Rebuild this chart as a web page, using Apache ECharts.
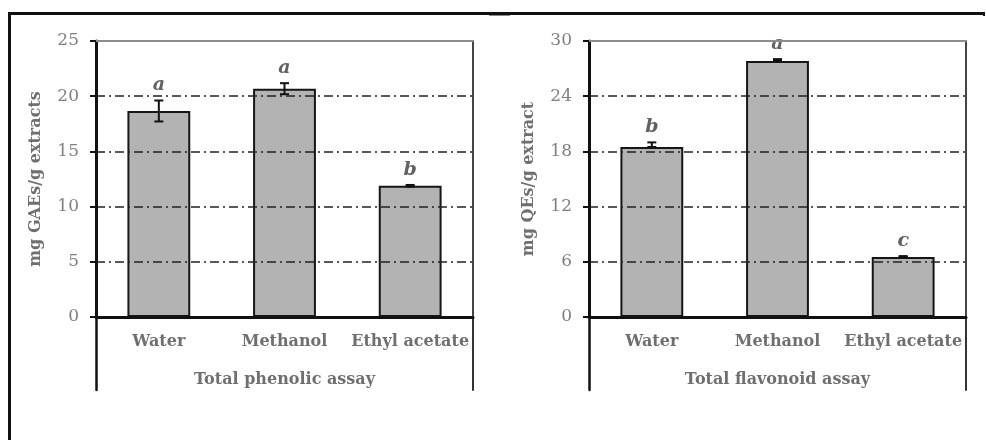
<!DOCTYPE html>
<html>
<head>
<meta charset="utf-8">
<script src="https://cdn.jsdelivr.net/npm/echarts@6/dist/echarts.min.js"></script>
<style>
html,body{margin:0;padding:0;background:#fff;}
#chart{width:986px;height:440px;}
</style>
</head>
<body>
<div id="chart"></div>
<script>
const categories = ['Water', 'Methanol', 'Ethyl acetate'];

const phenolic = [18.66, 20.68, 11.89];
const phenolicErrPlus = [0.95, 0.5, 0.07];
const phenolicErrMinus = [0.95, 0.5, 0.07];
const phenolicLetters = ['a', 'a', 'b'];
const phenolicTicks = [0, 5, 10, 15, 20, 25];

const flavonoid = [18.48, 27.83, 6.52];
const flavonoidErrPlus = [0.5, 0.2, 0.1];
const flavonoidErrMinus = [0, 0, 0];
const flavonoidLetters = ['b', 'a', 'c'];
const flavonoidTicks = [0, 6, 12, 18, 24, 30];

const FONT = 'DejaVu Serif';
const chart = echarts.init(document.getElementById('chart'), null, {renderer: 'canvas'});

function mainX(grid, name) {
  return {
    type: 'category', gridIndex: grid, data: categories, position: 'bottom',
    axisLine: {show: true, onZero: false, lineStyle: {color: '#111', width: 3}},
    axisTick: {show: false},
    axisLabel: {margin: 17, fontFamily: FONT, fontWeight: 'bold', fontSize: 16, color: '#6f6f6f', interval: 0},
    name: name, nameLocation: 'middle', nameGap: 55,
    nameTextStyle: {fontFamily: FONT, fontWeight: 'bold', fontSize: 16, color: '#6f6f6f'},
    z: 6
  };
}
function topX(grid) {
  return {
    type: 'category', gridIndex: grid, data: categories, position: 'top',
    axisLine: {show: true, onZero: false, lineStyle: {color: '#8c8c8c', width: 2}},
    axisTick: {show: false}, axisLabel: {show: false}, z: 6
  };
}
function mainY(grid, ticks, name) {
  return {
    type: 'value', gridIndex: grid, min: ticks[0], max: ticks[ticks.length - 1],
    interval: ticks[1] - ticks[0], position: 'left',
    axisLine: {show: true, onZero: false, lineStyle: {color: '#111', width: 3}},
    axisTick: {show: true, length: 6, lineStyle: {color: '#111', width: 2}},
    axisLabel: {margin: 17, fontFamily: FONT, fontSize: 17, color: '#7f7f7f'},
    splitLine: {show: true, lineStyle: {color: '#222', width: 1.5, type: [9, 4, 2, 4]}},
    name: name, nameLocation: 'middle', nameGap: 52,
    nameTextStyle: {fontFamily: FONT, fontWeight: 'bold', fontSize: 16, color: '#6f6f6f'},
    z: 6
  };
}
function rightY(grid, ticks) {
  return {
    type: 'value', gridIndex: grid, min: ticks[0], max: ticks[ticks.length - 1],
    interval: ticks[1] - ticks[0], position: 'right',
    axisLine: {show: true, onZero: false, lineStyle: {color: '#444', width: 2}},
    axisTick: {show: false}, axisLabel: {show: false}, splitLine: {show: false}
  };
}
function extY(grid, pos, color, width) {
  return {
    type: 'value', gridIndex: grid, min: 0, max: 1, position: pos,
    axisLine: {show: true, onZero: false, lineStyle: {color: color, width: width}},
    axisTick: {show: false}, axisLabel: {show: false}, splitLine: {show: false}
  };
}
function errSeries(xi, yi, vals, plus, minus, letters) {
  return {
    type: 'custom', xAxisIndex: xi, yAxisIndex: yi, z: 5,
    data: vals.map((v, i) => [i, v, v + plus[i], v - minus[i]]),
    renderItem: function (params, api) {
      const c = api.coord([api.value(0), api.value(1)]);
      const hi = api.coord([api.value(0), api.value(2)]);
      const lo = api.coord([api.value(0), api.value(3)]);
      const cap = 4.5;
      const st = {stroke: '#111', lineWidth: 2};
      return {
        type: 'group',
        children: [
          {type: 'line', shape: {x1: c[0], y1: hi[1], x2: c[0], y2: lo[1]}, style: st},
          {type: 'line', shape: {x1: c[0] - cap, y1: hi[1], x2: c[0] + cap, y2: hi[1]}, style: st},
          {type: 'line', shape: {x1: c[0] - cap, y1: lo[1], x2: c[0] + cap, y2: lo[1]}, style: st},
          {type: 'text', x: c[0], y: hi[1] - 15,
            style: {text: letters[params.dataIndex], x: 0, y: 0, align: 'center', verticalAlign: 'middle',
              font: 'italic bold 19px "' + FONT + '"', fill: '#626262'}}
        ]
      };
    }
  };
}
function barSeries(xi, yi, vals) {
  return {
    type: 'bar', xAxisIndex: xi, yAxisIndex: yi, data: vals, barWidth: '50%',
    itemStyle: {color: '#b3b3b3', borderColor: '#161616', borderWidth: 2},
    z: 3
  };
}

const option = {
  animation: false,
  backgroundColor: '#fff',
  grid: [
    {left: 96, top: 41, width: 377, height: 276},
    {left: 589, top: 41, width: 377, height: 276},
    {left: 96, top: 317, width: 377, height: 73},
    {left: 589, top: 317, width: 377, height: 73}
  ],
  xAxis: [
    mainX(0, 'Total phenolic assay'),
    mainX(1, 'Total flavonoid assay'),
    topX(0), topX(1),
    {type: 'category', gridIndex: 2, data: categories, show: false},
    {type: 'category', gridIndex: 3, data: categories, show: false}
  ],
  yAxis: [
    mainY(0, phenolicTicks, 'mg GAEs/g extracts'),
    mainY(1, flavonoidTicks, 'mg QEs/g extract'),
    rightY(0, phenolicTicks), rightY(1, flavonoidTicks),
    extY(2, 'left', '#111', 2.5), extY(2, 'right', '#333', 2),
    extY(3, 'left', '#111', 2.5), extY(3, 'right', '#333', 2)
  ],
  graphic: [
    {type: 'line', shape: {x1: 8, y1: 13.5, x2: 985, y2: 13.5}, style: {stroke: '#111', lineWidth: 3}},
    {type: 'line', shape: {x1: 489, y1: 14.5, x2: 510, y2: 14.5}, style: {stroke: '#111', lineWidth: 2}},
    {type: 'line', shape: {x1: 984, y1: 13, x2: 984, y2: 16}, style: {stroke: '#111', lineWidth: 2}},
    {type: 'line', shape: {x1: 9.5, y1: 12, x2: 9.5, y2: 440}, style: {stroke: '#111', lineWidth: 3}}
  ],
  series: [
    barSeries(0, 0, phenolic),
    errSeries(0, 0, phenolic, phenolicErrPlus, phenolicErrMinus, phenolicLetters),
    barSeries(1, 1, flavonoid),
    errSeries(1, 1, flavonoid, flavonoidErrPlus, flavonoidErrMinus, flavonoidLetters)
  ]
};
chart.setOption(option);
</script>
</body>
</html>
